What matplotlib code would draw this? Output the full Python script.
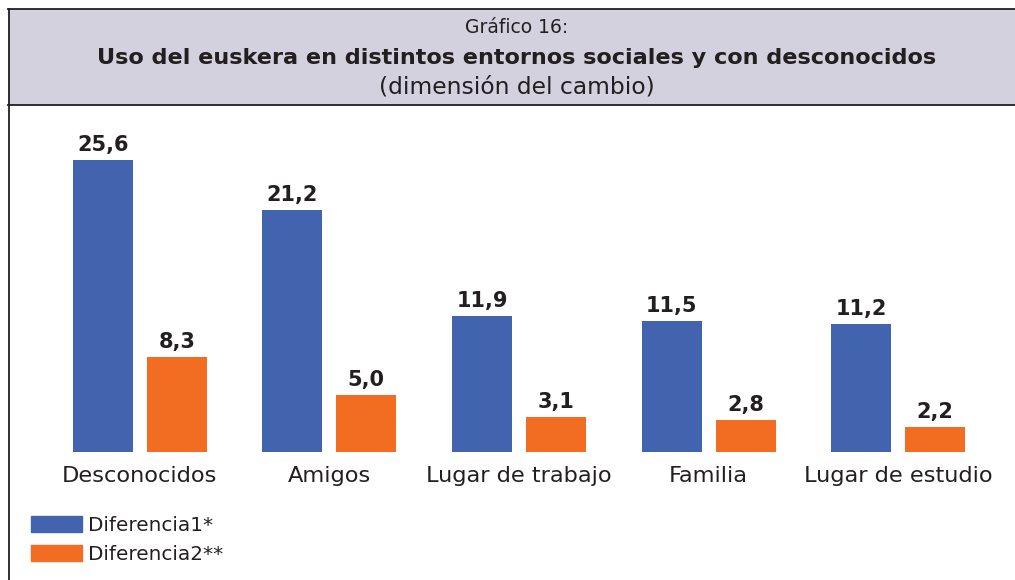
import matplotlib
matplotlib.use("Agg")
import matplotlib.pyplot as plt
import numpy as np
from matplotlib.patches import Rectangle
from matplotlib.lines import Line2D

categories = ["Desconocidos", "Amigos", "Lugar de trabajo", "Familia", "Lugar de estudio"]
diferencia1 = [25.6, 21.2, 11.9, 11.5, 11.2]
diferencia2 = [8.3, 5.0, 3.1, 2.8, 2.2]
series_names = ["Diferencia1*", "Diferencia2**"]
title_lines = ["Gráfico 16:", "Uso del euskera en distintos entornos sociales y con desconocidos", "(dimensión del cambio)"]

BLUE = "#4263ad"
ORANGE = "#f26c22"
HEAD = "#d3d1de"
TXT = "#231f20"

W, H = 1015, 580
plt.rcParams['font.family'] = ['DejaVu Sans']
fig = plt.figure(figsize=(W / 100, H / 100), dpi=100)

def fx(px):
    return px / W

def fy(py):
    return 1 - py / H

# header box
fig.patches.append(Rectangle((fx(8), fy(105)), fx(1015 - 8), (105 - 9) / H,
                             transform=fig.transFigure, facecolor=HEAD,
                             edgecolor="none", zorder=0))
for y in (9, 105):
    fig.lines.append(Line2D([fx(8), 1], [fy(y), fy(y)], transform=fig.transFigure,
                            color="#231f20", lw=1.3))
fig.lines.append(Line2D([fx(8.5), fx(8.5)], [fy(9), 0], transform=fig.transFigure,
                        color="#231f20", lw=1.3))

cx = fx(517)
fig.text(cx, fy(33), title_lines[0], ha="center", va="baseline", fontsize=13.5, color=TXT)
fig.text(cx, fy(64), title_lines[1], ha="center", va="baseline", fontsize=16.1,
         fontweight="bold", color=TXT)
fig.text(cx, fy(93), title_lines[2], ha="center", va="baseline", fontsize=16.8, color=TXT)

# axes
ax_left, ax_right = 45, 993
base_y, top_y = 452, 130
ax = fig.add_axes([fx(ax_left), fy(base_y), (ax_right - ax_left) / W, (base_y - top_y) / H])
x = np.arange(len(categories))
bw = 0.317
off = 0.195
ax.bar(x - off, diferencia1, bw, color=BLUE, label=series_names[0])
ax.bar(x + off, diferencia2, bw, color=ORANGE, label=series_names[1])
ax.set_xlim(-0.5, len(categories) - 0.5)
ax.set_ylim(0, (base_y - top_y) / 11.4)
for xs, vals in ((x - off, diferencia1), (x + off, diferencia2)):
    for xi, v in zip(xs, vals):
        ax.text(xi, v + 0.45, f"{v:.1f}".replace(".", ","), ha="center", va="bottom",
                fontsize=15, fontweight="bold", color=TXT)
ax.set_xticks(x)
ax.set_xticklabels(categories, fontsize=16.2, color=TXT)
ax.tick_params(axis="x", length=0, pad=10)
ax.set_yticks([])
for s in ax.spines.values():
    s.set_visible(False)
ax.patch.set_alpha(0)

# legend
handles = [Rectangle((0, 0), 1, 1, color=BLUE), Rectangle((0, 0), 1, 1, color=ORANGE)]
fig.legend(handles, series_names, loc="upper left", bbox_to_anchor=(fx(15), fy(500)),
           frameon=False, fontsize=14.4, handlelength=2.55, handleheight=0.85,
           handletextpad=0.3, labelspacing=0.52, borderpad=0.3, labelcolor=TXT)

fig.savefig("out.png", dpi=100)
